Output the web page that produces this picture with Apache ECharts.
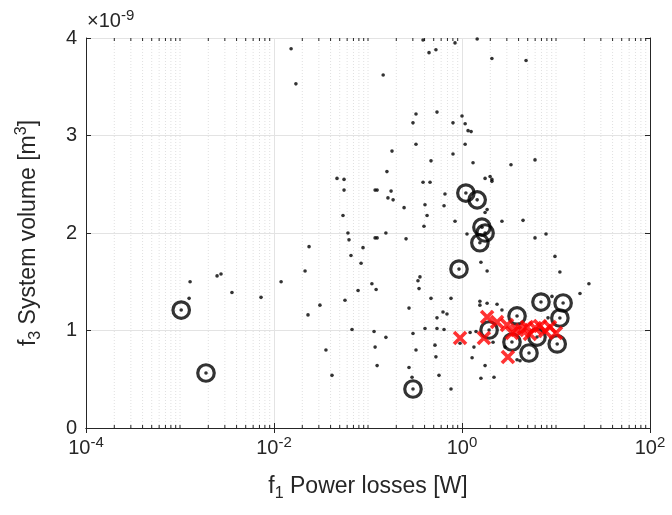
<!DOCTYPE html>
<html>
<head>
<meta charset="utf-8">
<script src="https://cdn.jsdelivr.net/npm/echarts@6/dist/echarts.min.js"></script>
<style>html,body{margin:0;padding:0;background:#fff}#c{width:672px;height:515px}</style>
</head>
<body>
<div id="c"></div>
<script>
// ---- data (x: f1 power losses in W, y: f3 system volume in units of 1e-9 m^3) ----
const allDesigns = [
  [0.0152,3.89],[0.0171,3.53],[0.385,3.98],[0.446,3.85],[0.528,3.88],[0.843,3.95],[1.45,3.99],
  [0.145,3.62],[2.08,3.79],[4.80,3.77],[0.324,3.22],[0.301,3.13],[0.542,3.24],[1.0,3.20],
  [0.802,3.13],[1.08,3.12],[1.16,3.05],[1.25,3.04],[0.324,2.91],[0.180,2.84],[1.08,2.91],
  [0.802,2.81],[0.468,2.74],[1.31,2.72],[3.32,2.70],[5.98,2.75],[0.159,2.63],[0.0468,2.56],
  [0.0556,2.55],[0.0556,2.44],[0.119,2.44],[0.125,2.44],[0.176,2.43],[0.163,2.36],[0.185,2.34],
  [0.385,2.52],[0.457,2.52],[1.76,2.56],[1.99,2.58],[2.08,2.55],[2.08,2.53],[0.659,2.40],
  [0.644,2.28],[0.242,2.26],[0.404,2.29],[0.425,2.18],[0.394,2.07],[0.843,2.12],[2.66,2.12],
  [4.46,2.13],[1.85,2.24],[1.76,2.21],[0.0542,2.18],[0.0612,2.00],[0.155,2.00],[0.119,1.95],
  [0.125,1.95],[0.254,1.94],[1.13,1.99],[5.98,1.95],[7.83,1.99],[0.0628,1.93],
  [0.0885,1.85],[0.0659,1.77],[0.0844,1.69],[0.110,1.48],[0.122,1.42],[0.0784,1.41],[0.0569,1.31],
  [0.0236,1.86],[0.0214,1.61],[0.00128,1.50],[0.00248,1.56],[0.00273,1.58],[0.00357,1.39],
  [0.00728,1.34],[0.0119,1.50],[0.00125,1.33],[0.0308,1.26],[0.0230,1.16],[0.0357,0.80],
  [0.357,1.55],[0.340,1.51],[0.349,1.43],[0.468,1.33],[0.273,1.23],[0.628,1.19],[0.542,1.13],
  [0.692,1.17],[0.0676,1.01],[0.116,0.99],[0.155,0.93],[0.301,0.97],[0.404,1.02],[0.542,1.02],
  [0.644,1.01],[0.119,0.83],[0.324,0.80],[0.516,0.85],[0.528,0.73],[0.125,0.64],[0.273,0.62],
  [0.294,0.52],[0.569,0.54],[0.0414,0.54],[1.59,1.70],[1.85,1.61],[0.764,1.33],[0.764,0.40],
  [1.59,0.51],[2.19,0.52],[1.76,0.64],[1.28,0.72],[1.55,1.30],[1.55,1.26],[1.85,1.28],
  [2.36,1.27],[2.66,1.21],[9.75,1.76],[11.0,1.60],[22.4,1.48],[18.0,1.38],[9.06,1.35],
  [8.22,1.13],[1.22,0.98],[1.41,0.99],[1.34,0.83],[2.14,0.88],[0.953,0.87],[2.87,0.83],
  [4.14,0.69],[3.85,0.70]
];
const paretoDesigns = [
  [0.00103,1.21],[0.00189,0.564],[0.301,0.40],[0.929,1.63],[1.10,2.41],[1.45,2.34],
  [1.63,2.06],[1.76,2.00],[1.55,1.90],[1.94,1.005],[3.85,1.149],[3.40,0.882],[5.16,0.769],
  [6.92,1.292],[11.9,1.282],[11.0,1.128],[10.3,0.862],[6.28,0.933]
];
const crossDesigns = [
  [0.953,0.923],[1.71,0.923],[1.85,1.138],[2.36,1.087],[3.01,1.056],[3.08,0.728],[3.40,0.974],
  [3.85,1.005],[4.35,1.005],[4.91,1.036],[5.28,0.964],[5.98,1.026],[6.76,1.046],[7.64,0.995],
  [8.63,1.036],[10.0,0.974]
];
const xMajorExponents = [-4, -2, 0, 2];
const yTicks = [0, 1, 2, 3, 4];
const yScaleLabel = '-9';

// minor log ticks (all decades between -4 and 2 except the labelled ones)
const minorTicks = [];
for (let d = -4; d < 2; d++) {
  for (let k = 1; k <= 9; k++) {
    if (k === 1 && xMajorExponents.indexOf(d) >= 0) continue;
    minorTicks.push([k * Math.pow(10, d), 0]);
  }
}

const FONT = '"Liberation Sans", Arial, Helvetica, sans-serif';
const TXT = '#262626';
const chart = echarts.init(document.getElementById('c'), null, {renderer: 'canvas'});

const supRich = {
  b: {fontSize: 20, fontFamily: FONT, color: TXT, lineHeight: 26},
  s: {fontSize: 15, fontFamily: FONT, color: TXT, lineHeight: 15, verticalAlign: 'top'}
};
const titleRich = {
  n: {fontSize: 23, fontFamily: FONT, color: TXT, lineHeight: 30},
  sub: {fontSize: 16, fontFamily: FONT, color: TXT, lineHeight: 16, verticalAlign: 'bottom'},
  sup: {fontSize: 16, fontFamily: FONT, color: TXT, lineHeight: 16, verticalAlign: 'top'}
};

chart.setOption({
  animation: false,
  grid: {left: 86, right: 22, top: 38, bottom: 87, containLabel: false},
  xAxis: [{
    type: 'log', logBase: 10, min: 1e-4, max: 1e2, interval: 2,
    axisLine: {lineStyle: {color: TXT, width: 1}},
    axisTick: {inside: true, length: 5, lineStyle: {color: TXT}},
    splitLine: {show: true, lineStyle: {color: '#e3e3e3', width: 1}},
    minorTick: {show: false}, minorSplitLine: {show: false},
    axisLabel: {
      margin: 7,
      formatter: function (v) {
        const e = Math.round(Math.log10(v));
        return '{b|10}{s|' + e + '}';
      },
      rich: supRich
    },
    name: '{n|f}{sub|1}{n| Power losses [W]}',
    nameLocation: 'middle', nameGap: 44,
    nameTextStyle: {rich: titleRich}
  }, {
    type: 'log', logBase: 10, min: 1e-4, max: 1e2, interval: 2, position: 'top',
    axisLine: {lineStyle: {color: TXT, width: 1}},
    axisTick: {inside: true, length: 5, lineStyle: {color: TXT}},
    axisLabel: {show: false}, splitLine: {show: false}
  }],
  yAxis: [{
    type: 'value', min: yTicks[0], max: yTicks[yTicks.length - 1], interval: 1,
    axisLine: {show: true, lineStyle: {color: TXT, width: 1}},
    axisTick: {show: true, inside: true, length: 5, lineStyle: {color: TXT}},
    splitLine: {show: true, lineStyle: {color: '#e3e3e3', width: 1}},
    axisLabel: {margin: 9, fontSize: 20, fontFamily: FONT, color: TXT},
    name: '{n|f}{sub|3}{n| System volume [m}{sup|3}{n|]}',
    nameLocation: 'middle', nameGap: 42, nameRotate: 90,
    nameTextStyle: {rich: titleRich}
  }, {
    type: 'value', min: yTicks[0], max: yTicks[yTicks.length - 1], interval: 1, position: 'right',
    axisLine: {show: true, lineStyle: {color: TXT, width: 1}},
    axisTick: {show: true, inside: true, length: 5, lineStyle: {color: TXT}},
    axisLabel: {show: false}, splitLine: {show: false}
  }],
  graphic: [{
    type: 'text', left: 87, top: 8,
    style: {
      text: '{b|\u00d710}{s|' + yScaleLabel + '}',
      rich: {
        b: {fontSize: 20, fontFamily: FONT, fill: TXT, lineHeight: 26},
        s: {fontSize: 15, fontFamily: FONT, fill: TXT, lineHeight: 15, verticalAlign: 'top'}
      }
    }
  }],
  series: [{
    type: 'custom', xAxisIndex: 0, yAxisIndex: 0, z: 1, silent: true,
    data: minorTicks,
    renderItem: function (params, api) {
      const x = api.value(0);
      const p0 = api.coord([x, yTicks[0]]);
      const p1 = api.coord([x, yTicks[yTicks.length - 1]]);
      return {
        type: 'group', children: [
          {type: 'line', shape: {x1: p0[0], y1: p0[1], x2: p1[0], y2: p1[1]},
           style: {stroke: '#e0e0e0', lineWidth: 1, lineDash: [1, 2]}},
          {type: 'line', shape: {x1: p0[0], y1: p0[1], x2: p0[0], y2: p0[1] - 3},
           style: {stroke: TXT, lineWidth: 1}},
          {type: 'line', shape: {x1: p1[0], y1: p1[1], x2: p1[0], y2: p1[1] + 3},
           style: {stroke: TXT, lineWidth: 1}}
        ]
      };
    }
  }, {
    type: 'scatter', data: allDesigns, symbol: 'circle', symbolSize: 3.6, z: 3,
    itemStyle: {color: '#000'}
  }, {
    type: 'scatter', data: paretoDesigns, symbol: 'circle', symbolSize: 3.6, z: 3,
    itemStyle: {color: '#000'}
  }, {
    type: 'scatter', data: paretoDesigns, symbol: 'circle', symbolSize: 16.5, z: 4,
    itemStyle: {color: 'rgba(0,0,0,0)', borderColor: '#000', borderWidth: 3.2}
  }, {
    type: 'scatter', data: crossDesigns, symbol: 'path://M0,0L10,10M10,0L0,10', symbolSize: 12, z: 5,
    itemStyle: {color: 'rgba(0,0,0,0)', borderColor: '#ff0000', borderWidth: 3.6}
  }]
});
</script>
</body>
</html>
